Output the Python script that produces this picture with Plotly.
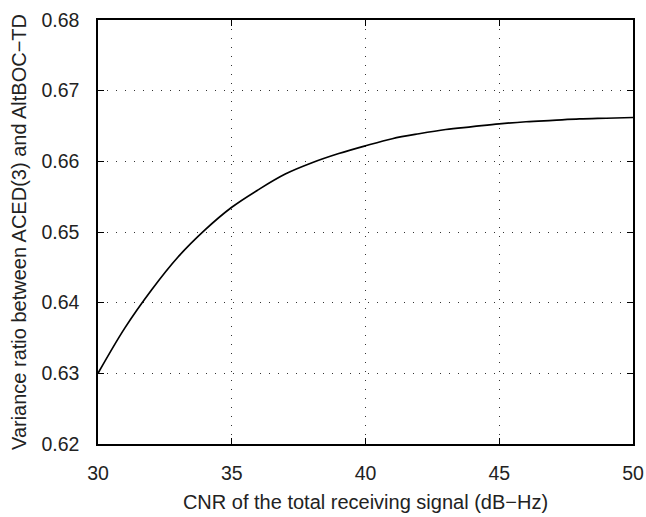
import plotly.graph_objects as go

cnr = [30, 31, 32, 33, 34, 35, 36, 37, 38, 39, 40, 41, 42, 43, 44, 45, 46, 47, 48, 49, 50]
ratio = [0.6300, 0.6364, 0.6418, 0.6465, 0.6503, 0.6535, 0.6560, 0.6582, 0.6598, 0.6611,
         0.6622, 0.6632, 0.6639, 0.6645, 0.6649, 0.6653, 0.6656, 0.6658, 0.6660, 0.6661, 0.6662]
x_ticks = [30, 35, 40, 45, 50]
y_ticks = [0.62, 0.63, 0.64, 0.65, 0.66, 0.67, 0.68]
y_tick_text = ["0.62", "0.63", "0.64", "0.65", "0.66", "0.67", "0.68"]

FONT = "Liberation Sans, Arial, sans-serif"

fig = go.Figure()
fig.add_trace(go.Scatter(x=cnr, y=ratio, mode="lines",
                         line=dict(color="black", width=1.7, shape="spline"),
                         showlegend=False))

axis_common = dict(
    showline=True, linecolor="black", linewidth=1.5, mirror="ticks",
    ticks="inside", ticklen=6, tickcolor="black", tickwidth=1,
    showgrid=True, gridcolor="#333333", gridwidth=1, griddash="1px,8px",
    zeroline=False,
    tickfont=dict(family=FONT, size=19.5, color="#222"),
)

fig.update_xaxes(range=[30, 50], tickvals=x_ticks, ticklabelstandoff=11,
                 title=dict(text="CNR of the total receiving signal (dB−Hz)",
                            font=dict(family=FONT, size=20, color="#222"),
                            standoff=12),
                 **axis_common)
fig.update_yaxes(range=[0.62, 0.68], tickvals=y_ticks, ticktext=y_tick_text, ticklabelstandoff=13,
                 title=dict(text="Variance ratio between ACED(3) and AltBOC−TD",
                            font=dict(family=FONT, size=20, color="#222"),
                            standoff=9),
                 **axis_common)

fig.update_layout(width=646, height=517,
                  margin=dict(l=98, r=13, t=20, b=73, autoexpand=False),
                  plot_bgcolor="white", paper_bgcolor="white")

fig.write_html("out.html")
